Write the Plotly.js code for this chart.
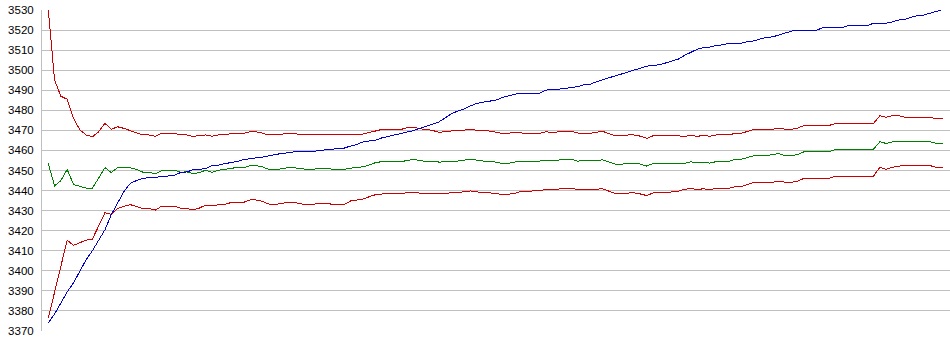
<!DOCTYPE html>
<html>
<head>
<meta charset="utf-8">
<script src="https://cdn.plot.ly/plotly-3.0.1.min.js"></script>
<style>
html,body{margin:0;padding:0;background:#fff;}
#chart{width:950px;height:355px;}
#chart .scatterlayer path.js-line{shape-rendering:crispEdges;}
</style>
</head>
<body>
<div id="chart"></div>
<script>
// Series values (one value per sample)
var upperBand = [
3530,3495,3487,3485.5,3476,3470.3,3467.7,3466.8,3469.3,3473.5,
3470.5,3471.8,3471,3469.8,3468.6,3467.7,3467.7,3467,3468.5,3468.5,
3468.5,3467.8,3467.7,3466.9,3467.6,3467.7,3467.1,3467.7,3467.7,3468.4,
3468.5,3468.5,3469.3,3469.3,3468.6,3467.7,3467.7,3468.2,3468.5,3468.5,
3467.9,3467.7,3467.7,3468.2,3467.9,3467.7,3467.7,3467.7,3467.7,3467.7,
3468.2,3469,3470,3470.5,3470.5,3470.5,3470.5,3471.3,3471.5,3470.8,
3470.5,3470,3469,3469.4,3469.7,3469.7,3470.1,3470.5,3470.1,3469.7,
3469.7,3469.1,3468.5,3468.5,3469.1,3468.7,3468.5,3468.5,3468.5,3469.3,
3469,3469.2,3469.7,3469.7,3468.7,3468.5,3468.5,3469.1,3469.5,3468.4,
3467.3,3467.2,3467.7,3467.7,3467.1,3466,3467.3,3467.4,3467.4,3467.4,
3467.3,3466.9,3467.6,3467,3467.5,3467.1,3467.7,3467.7,3467.7,3468.5,
3468.5,3469.5,3470.5,3470.5,3470.5,3470.5,3471.2,3470.5,3470.5,3471.2,
3472.5,3472.5,3472.5,3472.5,3472.5,3473.5,3473.5,3473.5,3473.5,3473.5,
3473.5,3473.5,3477.3,3476.5,3477.3,3477.3,3476.5,3476.5,3476.5,3476.5,
3476.5,3475.7,3475.7
];
var middleBand = [
3453.5,3442.3,3445,3450.5,3443,3442,3441.2,3441.2,3446.4,3451.4,
3449,3451.4,3451.4,3451.4,3450.5,3449.2,3449.1,3448.3,3450,3450.2,
3450.2,3449.2,3449.3,3448.5,3448.9,3450.2,3449.1,3450.2,3450.4,3451.2,
3451.4,3451.4,3452.4,3452.4,3451.8,3450.6,3450.6,3450.8,3451.4,3451.4,
3450.8,3450.6,3450.6,3451,3450.8,3450.6,3450.6,3450.6,3451.2,3451.4,
3451.9,3452.8,3454,3454.4,3454.4,3454.4,3454.4,3455,3455.5,3455,
3454.5,3454.7,3454.2,3454.3,3454.7,3454.7,3455.2,3455.6,3455.2,3454.7,
3454.7,3454.2,3453.6,3453.6,3454.2,3454.7,3454.7,3454.7,3454.7,3455.2,
3455.1,3455.2,3455.6,3455.6,3454.7,3454.7,3454.7,3455,3455.3,3454.3,
3453.2,3453.1,3453.6,3453.6,3453.2,3452.2,3453.5,3453.6,3453.6,3453.6,
3453.6,3453.6,3454.3,3453.8,3454.2,3453.7,3454.4,3454.4,3454.5,3455.6,
3455.6,3456.5,3457.4,3457.4,3457.4,3458,3458.4,3457.4,3457.4,3458,
3459.4,3459.4,3459.4,3459.4,3459.4,3460.6,3460.6,3460.6,3460.6,3460.6,
3460.6,3460.6,3464.3,3463.5,3464.3,3464.3,3464.3,3464.3,3464.3,3464.3,
3464.3,3463.5,3463.5
];
var lowerBand = [
3376.5,3389.6,3403,3415.3,3412.7,3414.2,3415.3,3415.8,3422,3429,
3428.1,3431,3432.2,3433,3432,3431.1,3431.1,3430.3,3432.2,3432.3,
3432.3,3431.2,3431.1,3430.3,3431.3,3432.8,3432.3,3433,3433.1,3434,
3434.1,3434.1,3435.3,3435.3,3434.6,3433.3,3433.1,3433.6,3434.1,3434.1,
3433.4,3433.1,3433.1,3433.6,3433.4,3433.1,3433.1,3433.1,3434.8,3435.3,
3435.8,3437,3438,3438.3,3438.3,3438.3,3438.3,3439,3439.1,3438.7,
3438.3,3438.5,3438.4,3438.6,3438.9,3438.9,3439.5,3439.8,3439.4,3438.9,
3438.9,3438.4,3438.1,3438.1,3438.6,3439.6,3439.8,3439.8,3439.8,3440.6,
3440.6,3440.8,3441.1,3441.1,3440.6,3440.3,3440.3,3440.7,3440.9,3439.7,
3438.6,3438.6,3438.9,3438.9,3438.3,3437.5,3438.8,3438.9,3438.9,3439.3,
3439.7,3440.6,3441,3440.5,3440.9,3440.5,3441.1,3441.1,3441.1,3441.9,
3441.9,3443,3444.1,3444.1,3444.1,3444.1,3444.7,3444.1,3444.1,3444.8,
3446.1,3446.1,3446.1,3446.1,3446.1,3447.2,3447.2,3447.2,3447.2,3447.2,
3447.2,3447.2,3451.6,3450.6,3451.6,3452.2,3452.4,3452.4,3452.4,3452.4,
3452.4,3451.6,3451.6
];
var mainLine = [
3374,3378.5,3384,3389.5,3394,3399.5,3405.5,3410,3415,3420.5,
3428,3434,3439.5,3443.5,3445,3446,3446.5,3446.6,3447,3447.3,
3447.6,3449,3449.3,3450.4,3450.6,3450.9,3452.4,3452.6,3453.4,3453.8,
3454.5,3455.4,3455.7,3456.3,3456.7,3457.4,3457.9,3458.5,3458.8,3459.3,
3459.4,3459.4,3459.4,3460,3460.3,3460.4,3460.6,3461.2,3462.2,3463,
3464.3,3464.6,3465.2,3466.3,3467,3467.7,3468.4,3469.1,3469.9,3471,
3472,3473,3474.2,3476.2,3478.3,3479.6,3480.7,3482.2,3483.4,3484.1,
3484.5,3485,3486.3,3487.3,3488,3488.5,3488.5,3488.5,3488.5,3490,
3490.5,3490.5,3491,3491.5,3491.8,3492.7,3493,3494.2,3495.3,3496.3,
3497.2,3498.1,3499.1,3500,3500.9,3502,3502.4,3502.7,3503.6,3504.6,
3505.5,3507.4,3509,3510.4,3511.2,3511.5,3512.3,3512.6,3513.4,3513.4,
3513.4,3514.3,3514.6,3515.5,3516.3,3516.6,3517.6,3518.7,3519.5,3520,
3520,3520,3520,3521.2,3521.2,3521.2,3521.2,3522.2,3522.2,3522.2,
3522.2,3523.4,3523.4,3523.4,3524.1,3525,3525.4,3526.5,3527.3,3527.5,
3528.3,3529.2,3530.2
];
var yTicks = [3370,3380,3390,3400,3410,3420,3430,3440,3450,3460,3470,3480,3490,3500,3510,3520,3530];

var xs = mainLine.map(function(_, i){ return i; });

function line(y, color){
  return {x: xs, y: y, type: 'scatter', mode: 'lines',
          line: {color: color, width: 1}, hoverinfo: 'skip', showlegend: false};
}

var data = [
  line(upperBand, '#cc0000'),
  line(lowerBand, '#cc0000'),
  line(middleBand, '#008000'),
  line(mainLine, '#0000cc')
];

var layout = {
  width: 950, height: 355,
  margin: {l: 42, r: 0, t: 10, b: 24, pad: 0},
  paper_bgcolor: '#ffffff', plot_bgcolor: '#ffffff',
  showlegend: false,
  font: {family: 'Arial, "Liberation Sans", sans-serif', size: 11, color: '#000000'},
  xaxis: {
    range: [-1, xs.length + 0.14],
    showticklabels: false, showgrid: false, zeroline: false,
    showline: false, ticks: ''
  },
  yaxis: {
    range: [yTicks[0], yTicks[yTicks.length - 1]],
    tickmode: 'array', tickvals: yTicks, ticktext: yTicks.map(String),
    showgrid: true, gridcolor: '#c0c0c0', gridwidth: 1,
    zeroline: false, showline: true, linecolor: '#c0c0c0', linewidth: 1,
    ticks: '', ticklabelstandoff: 5,
    tickfont: {family: 'Arial, "Liberation Sans", sans-serif', size: 11.5, color: '#000000'}
  }
};

Plotly.newPlot('chart', data, layout, {staticPlot: true, displayModeBar: false});
</script>
</body>
</html>
